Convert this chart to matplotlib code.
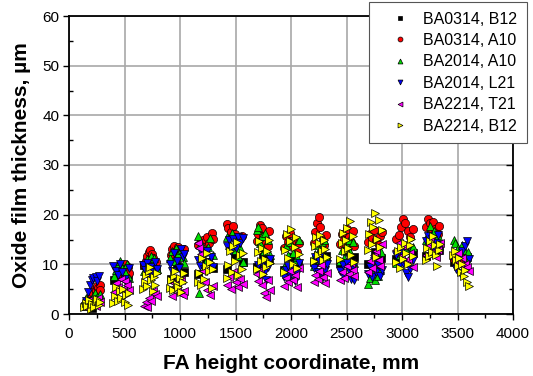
import matplotlib
matplotlib.use("Agg")
import matplotlib.pyplot as plt
from matplotlib.ticker import MultipleLocator

plt.rcParams["font.family"] = ["Liberation Sans", "DejaVu Sans"]

# BA0314, B12
k_x = [140, 210, 260,
       405, 470, 530,
       675, 730, 785,
       915, 975, 1035,
       1165, 1230, 1295,
       1425, 1495, 1565,
       1695, 1750, 1805,
       1935, 2000, 2065,
       2205, 2260, 2315,
       2445, 2505, 2565,
       2695, 2755, 2815,
       2950, 3020, 3095,
       3215, 3275, 3335,
       3465, 3530, 3590]
k_y = [1.6, 1.3, 2.6,
       6.8, 7.4, 7.8,
       9.8, 8.2, 8.8,
       7.0, 9.6, 8.4,
       8.0, 10.4, 9.2,
       9.0, 11.6, 10.4,
       9.4, 12.0, 10.8,
       8.8, 11.4, 10.0,
       10.4, 11.0, 11.6,
       10.2, 12.6, 11.4,
       10.0, 12.4, 11.2,
       11.0, 13.4, 12.2,
       11.6, 13.8, 12.8,
       10.4, 12.2, 11.4]

# BA0314, A10
r_x = [200, 215, 230, 245, 255, 265, 275, 280,
       440, 455, 470, 485, 500, 515, 528, 538,
       675, 690, 705, 718, 730, 745, 760, 780,
       915, 930, 950, 965, 985, 1005, 1020, 1040,
       1165, 1185, 1205, 1225, 1245, 1265, 1285, 1300,
       1420, 1435, 1455, 1475, 1495, 1515, 1535, 1555,
       1690, 1705, 1720, 1735, 1750, 1770, 1790, 1805,
       1935, 1955, 1975, 1995, 2015, 2035, 2055, 2070,
       2205, 2220, 2235, 2250, 2265, 2285, 2300, 2315,
       2445, 2460, 2480, 2500, 2520, 2540, 2555, 2570,
       2695, 2710, 2730, 2750, 2770, 2790, 2805, 2820,
       2950, 2970, 2990, 3010, 3030, 3050, 3075, 3095,
       3215, 3230, 3250, 3265, 3280, 3300, 3320, 3335,
       3470, 3490, 3510, 3530, 3545]
r_y = [3.6, 4.2, 5.0, 4.6, 5.6, 5.2, 5.8, 4.8,
       8.0, 8.8, 9.6, 9.2, 10.0, 8.6, 9.4, 8.2,
       9.8, 10.6, 11.6, 12.4, 12.8, 12.0, 11.2, 10.4,
       11.8, 13.0, 13.6, 12.6, 13.4, 11.6, 12.2, 13.0,
       13.8, 14.6, 15.0, 13.4, 15.6, 14.2, 16.4, 15.2,
       18.2, 17.4, 16.6, 17.8, 16.2, 15.4, 14.8, 15.8,
       14.6, 16.2, 18.0, 17.4, 15.8, 14.2, 13.6, 16.8,
       13.2, 15.8, 14.4, 16.4, 13.6, 15.0, 12.4, 14.2,
       14.2, 16.6, 18.4, 19.6, 17.6, 15.2, 13.8, 16.0,
       14.0, 16.2, 15.0, 17.2, 15.6, 14.4, 16.8, 13.6,
       14.4, 16.2, 15.4, 17.0, 14.8, 13.8, 15.8, 16.6,
       15.2, 16.0, 17.6, 19.2, 18.4, 16.8, 15.6, 17.2,
       17.6, 19.2, 18.4, 16.8, 18.6, 17.2, 16.2, 17.8,
       11.0, 11.8, 12.4, 11.4, 10.8]

# BA2014, A10
g_x = [135, 155, 175, 195, 215, 235, 255, 275,
       405, 420, 440, 460, 480, 500, 520, 538,
       675, 690, 705, 720, 740, 755, 770, 790,
       910, 925, 945, 965, 985, 1005, 1025, 1040,
       1165, 1175, 1190, 1210, 1230, 1250, 1270, 1295,
       1425, 1445, 1465, 1485, 1505, 1525, 1545, 1565,
       1690, 1705, 1720, 1740, 1755, 1770, 1790, 1810,
       1935, 1955, 1975, 1995, 2015, 2035, 2055, 2070,
       2205, 2220, 2235, 2250, 2265, 2280, 2300, 2315,
       2445, 2460, 2480, 2500, 2520, 2535, 2555, 2570,
       2695, 2710, 2725, 2745, 2760, 2780, 2800, 2815,
       2950, 2970, 2990, 3010, 3035, 3055, 3075, 3095,
       3215, 3230, 3250, 3265, 3285, 3300, 3320, 3335,
       3465, 3480, 3500, 3520, 3540, 3560, 3580, 3595]
g_y = [2.4, 3.2, 2.0, 2.8, 3.6, 4.2, 3.4, 4.0,
       7.6, 8.8, 9.8, 10.6, 9.2, 8.4, 10.0, 7.2,
       8.6, 9.8, 11.0, 9.4, 11.6, 10.4, 11.2, 9.0,
       11.2, 12.6, 10.6, 13.2, 12.0, 12.8, 11.4, 10.2,
       15.8, 4.2, 14.2, 12.4, 10.6, 13.4, 15.4, 11.8,
       15.6, 13.8, 16.4, 12.8, 14.6, 11.6, 13.2, 10.4,
       17.0, 17.6, 14.2, 15.8, 12.6, 16.4, 14.8, 11.8,
       9.4, 13.6, 11.8, 14.4, 12.2, 10.6, 11.4, 15.0,
       9.6, 12.0, 13.8, 12.6, 10.8, 14.4, 15.0, 11.4,
       10.6, 12.8, 11.2, 13.6, 15.0, 12.4, 14.4, 10.2,
       6.0, 7.2, 8.6, 9.8, 6.8, 7.6, 8.8, 12.4,
       10.2, 11.8, 13.2, 10.8, 12.8, 14.0, 11.4, 13.4,
       14.8, 16.2, 17.8, 15.4, 16.8, 14.2, 15.8, 13.6,
       15.0, 14.2, 13.2, 12.0, 13.8, 12.8, 11.2, 12.4]

# BA2014, L21
b_x = [150, 170, 190, 205, 220, 240, 255, 270,
       400, 420, 440, 460, 480, 500, 520, 540,
       670, 685, 700, 720, 740, 760, 775, 790,
       910, 930, 950, 970, 990, 1010, 1025, 1040,
       1160, 1180, 1200, 1220, 1240, 1260, 1280, 1300,
       1420, 1440, 1460, 1480, 1500, 1520, 1545, 1570,
       1690, 1705, 1720, 1740, 1755, 1775, 1790, 1810,
       1935, 1955, 1975, 1995, 2015, 2035, 2055, 2070,
       2205, 2220, 2240, 2255, 2270, 2290, 2305, 2320,
       2445, 2465, 2480, 2500, 2520, 2540, 2555, 2570,
       2695, 2710, 2730, 2750, 2770, 2785, 2800, 2820,
       2950, 2970, 2990, 3010, 3035, 3055, 3075, 3095,
       3215, 3235, 3250, 3270, 3290, 3305, 3320, 3340,
       3465, 3485, 3505, 3525, 3545, 3565, 3585, 3600]
b_y = [2.6, 4.4, 5.8, 6.8, 7.2, 7.4, 6.6, 7.6,
       9.6, 8.6, 7.8, 10.0, 8.4, 7.0, 6.0, 9.2,
       9.8, 8.8, 10.2, 7.6, 9.4, 8.4, 10.4, 9.0,
       10.0, 8.6, 12.2, 10.6, 9.2, 13.0, 11.4, 12.0,
       10.8, 9.6, 12.0, 9.0, 12.6, 10.4, 11.4, 9.4,
       13.6, 14.8, 12.6, 15.2, 13.2, 15.6, 14.2, 15.4,
       8.6, 9.8, 7.4, 10.2, 8.2, 6.8, 9.4, 11.0,
       7.4, 8.8, 9.6, 7.8, 9.0, 6.6, 8.2, 10.2,
       9.2, 11.4, 8.4, 10.6, 12.0, 7.4, 8.8, 10.0,
       8.6, 9.8, 7.4, 10.2, 8.8, 7.0, 9.4, 6.8,
       8.0, 9.4, 7.4, 10.6, 8.4, 9.8, 7.6, 8.8,
       11.8, 9.6, 12.4, 10.2, 8.2, 7.4, 9.0, 10.8,
       14.6, 15.8, 13.4, 15.2, 12.8, 14.2, 16.0, 13.8,
       10.6, 9.0, 11.8, 8.2, 12.6, 13.6, 14.6, 11.0]

# BA2214, T21
m_x = [140, 160, 180, 200, 220, 240, 260, 275,
       405, 425, 445, 465, 485, 505, 525, 540,
       675, 690, 705, 720, 740, 760, 775, 790,
       910, 930, 950, 970, 990, 1010, 1025, 1040,
       1160, 1175, 1190, 1205, 1225, 1245, 1270, 1295,
       1420, 1440, 1460, 1480, 1500, 1520, 1545, 1565,
       1690, 1705, 1720, 1740, 1755, 1775, 1790, 1810,
       1935, 1955, 1975, 1995, 2015, 2035, 2055, 2070,
       2205, 2220, 2240, 2255, 2270, 2290, 2305, 2320,
       2445, 2460, 2480, 2500, 2520, 2540, 2555, 2570,
       2695, 2710, 2730, 2750, 2770, 2790, 2805, 2820,
       2950, 2970, 2990, 3010, 3035, 3055, 3075, 3095,
       3215, 3235, 3250, 3270, 3290, 3305, 3320, 3340,
       3465, 3485, 3505, 3525, 3545, 3565, 3585, 3600]
m_y = [1.4, 2.6, 1.8, 3.0, 2.2, 1.6, 3.2, 2.4,
       4.4, 6.2, 5.4, 7.0, 5.0, 6.6, 5.8, 4.8,
       1.6, 2.4, 1.4, 3.2, 2.6, 4.6, 4.0, 3.6,
       5.0, 3.6, 6.2, 5.4, 4.2, 6.8, 3.8, 4.6,
       14.2, 13.2, 12.0, 8.6, 6.4, 4.8, 3.8, 5.6,
       5.8, 7.4, 5.0, 8.4, 6.4, 5.4, 7.0, 6.0,
       8.0, 6.6, 8.8, 5.8, 4.2, 3.4, 6.8, 4.8,
       5.6, 7.2, 6.4, 8.6, 6.8, 7.8, 5.4, 9.2,
       6.4, 7.8, 7.0, 8.6, 9.8, 7.4, 6.2, 8.2,
       6.8, 8.4, 7.2, 9.6, 8.0, 10.2, 8.8, 7.6,
       8.4, 10.6, 9.2, 11.8, 12.6, 10.8, 9.6, 14.0,
       12.8, 14.2, 11.6, 13.6, 10.4, 11.0, 12.2, 9.4,
       11.8, 13.6, 14.8, 12.4, 13.8, 11.4, 12.8, 14.2,
       11.6, 10.6, 12.2, 9.8, 11.2, 10.0, 9.4, 8.6]

# BA2214, B12
y_x = [135, 150, 165, 180, 195, 210, 225, 240, 255, 270, 280,
       400, 412, 425, 440, 455, 470, 485, 500, 515, 528, 540,
       670, 682, 694, 706, 718, 730, 742, 754, 766, 778, 790,
       910, 922, 934, 946, 958, 970, 984, 998, 1012, 1026, 1040,
       1160, 1174, 1188, 1202, 1216, 1230, 1244, 1258, 1272, 1286, 1300,
       1420, 1435, 1450, 1465, 1480, 1495, 1510, 1525, 1540, 1555, 1570,
       1690, 1702, 1714, 1726, 1738, 1750, 1762, 1774, 1786, 1798, 1810,
       1935, 1948, 1962, 1976, 1990, 2004, 2018, 2032, 2046, 2058, 2070,
       2205, 2216, 2228, 2240, 2252, 2264, 2276, 2288, 2300, 2310, 2320,
       2445, 2457, 2470, 2482, 2494, 2506, 2518, 2530, 2545, 2558, 2570,
       2695, 2707, 2719, 2731, 2743, 2755, 2767, 2779, 2791, 2805, 2820,
       2950, 2965, 2980, 2995, 3010, 3025, 3040, 3055, 3070, 3085, 3100,
       3215, 3228, 3241, 3254, 3267, 3280, 3293, 3306, 3319, 3330, 3340,
       3460, 3474, 3488, 3502, 3516, 3530, 3544, 3558, 3572, 3586, 3600]
y_y = [1.4, 2.2, 1.6, 2.8, 1.0, 2.0, 1.4, 2.6, 3.0, 1.8, 2.4,
       2.2, 3.6, 5.4, 2.6, 4.6, 3.2, 5.0, 2.4, 3.8, 1.8, 4.2,
       5.0, 6.4, 7.8, 5.6, 8.6, 9.4, 6.8, 4.6, 7.4, 5.8, 8.2,
       5.2, 6.8, 4.8, 7.6, 8.6, 6.0, 5.4, 7.2, 4.4, 6.4, 8.2,
       6.4, 8.2, 5.8, 11.2, 7.0, 9.6, 12.2, 8.6, 10.4, 5.2, 9.0,
       7.2, 9.8, 12.6, 8.4, 13.6, 10.6, 14.4, 7.8, 11.8, 9.0, 12.2,
       9.0, 12.4, 14.6, 10.6, 13.2, 8.0, 11.0, 9.4, 12.6, 14.8, 10.2,
       8.4, 12.8, 16.2, 11.2, 14.6, 17.2, 10.0, 13.4, 15.6, 9.2, 12.0,
       10.6, 13.6, 15.6, 11.8, 14.2, 16.0, 12.6, 10.8, 14.8, 13.0, 11.4,
       11.0, 14.2, 16.4, 12.6, 15.0, 17.4, 13.2, 18.8, 11.8, 15.8, 10.4,
       12.8, 16.2, 18.6, 14.0, 17.6, 20.4, 11.4, 15.2, 19.0, 13.4, 17.0,
       10.4, 12.6, 9.2, 13.4, 11.0, 14.2, 12.2, 10.0, 13.8, 15.2, 11.6,
       10.8, 13.2, 11.6, 14.6, 12.4, 15.8, 13.8, 11.8, 9.6, 12.8, 14.0,
       11.8, 12.6, 10.8, 9.6, 11.2, 8.4, 10.0, 7.6, 8.8, 6.4, 5.6]

series = [
    ("BA0314, B12", k_x, k_y, "s", "black"),
    ("BA0314, A10", r_x, r_y, "o", "#ff0000"),
    ("BA2014, A10", g_x, g_y, "^", "#00dd00"),
    ("BA2014, L21", b_x, b_y, "v", "#0000ff"),
    ("BA2214, T21", m_x, m_y, "<", "#ff00ff"),
    ("BA2214, B12", y_x, y_y, ">", "#ffff00"),
]

fig = plt.figure(figsize=(5.33, 3.76), dpi=100)
ax = fig.add_axes([69 / 533, 62 / 376, 444 / 533, 298 / 376])

for label, xs, ys, mk, col in series:
    ax.plot(xs, ys, linestyle="none", marker=mk, markersize=5.9,
            markerfacecolor=col, markeredgecolor="black",
            markeredgewidth=0.5, label=label, zorder=3)

ax.set_xlim(0, 4000)
ax.set_ylim(0, 60)
ax.xaxis.set_major_locator(MultipleLocator(500))
ax.xaxis.set_minor_locator(MultipleLocator(250))
ax.yaxis.set_major_locator(MultipleLocator(10))
ax.yaxis.set_minor_locator(MultipleLocator(5))
ax.grid(True, which="major", color="#a8a8a8", linewidth=1.2, zorder=0)
ax.set_axisbelow(True)

for sp in ax.spines.values():
    sp.set_linewidth(1.3)

ax.tick_params(axis="x", which="both", direction="out", top=False,
               labelsize=11, width=1, pad=5)
ax.tick_params(axis="x", which="major", length=4)
ax.tick_params(axis="x", which="minor", length=3)
ax.tick_params(axis="y", which="major", direction="out", length=4,
               width=1, labelsize=11, right=False, pad=3)
ax.tick_params(axis="y", which="minor", direction="in", length=3,
               width=1, right=False)

# right-hand ticks point inward
ax_r = ax.twinx()
ax_r.set_ylim(ax.get_ylim())
ax_r.yaxis.set_major_locator(MultipleLocator(10))
ax_r.yaxis.set_minor_locator(MultipleLocator(5))
ax_r.tick_params(axis="y", which="both", direction="in", width=1,
                 labelright=False)
ax_r.tick_params(axis="y", which="major", length=5)
ax_r.tick_params(axis="y", which="minor", length=3)
for sp in ax_r.spines.values():
    sp.set_visible(False)

ax.set_xlabel("FA height coordinate, mm", fontsize=15, fontweight="bold",
              labelpad=10)
ax.set_ylabel("Oxide film thickness, µm", fontsize=15, fontweight="bold",
              labelpad=8)

leg = ax_r.legend(*ax.get_legend_handles_labels(),
                  loc="upper right", bbox_to_anchor=(527 / 533, 1 - 2 / 376),
                  bbox_transform=fig.transFigure, borderaxespad=0,
                  fontsize=11.5, markerscale=0.6, numpoints=1,
                  handlelength=2.7, handletextpad=0.1, borderpad=0.6,
                  labelspacing=0.4, fancybox=False, framealpha=1)
leg.get_frame().set_edgecolor("#555555")
leg.get_frame().set_linewidth(0.8)

fig.savefig("out.png", dpi=100)
